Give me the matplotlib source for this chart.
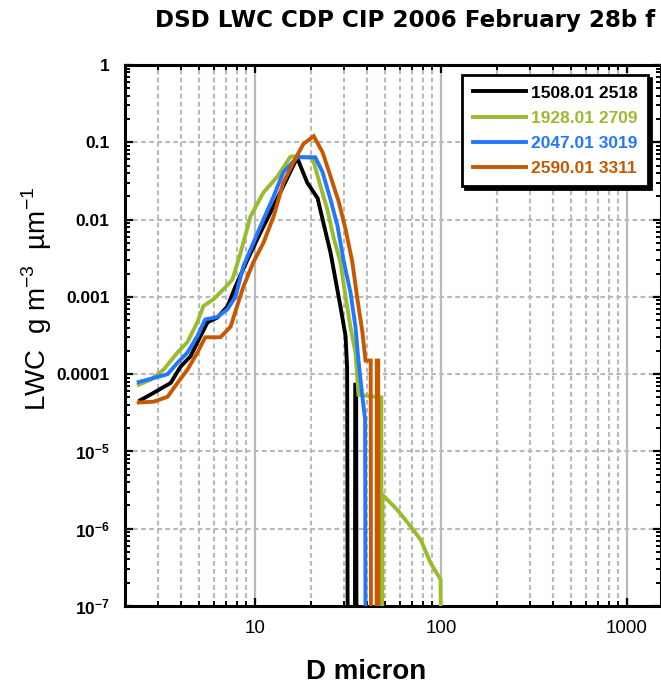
import matplotlib
matplotlib.use("Agg")
import matplotlib.pyplot as plt
from matplotlib.ticker import FixedLocator, FixedFormatter, LogLocator, NullFormatter

# ---------------- data ----------------
ZERO = 1e-9  # bins with no mass (below the plotted range)

d_1508 = [2.42, 2.84, 3.52, 3.98, 4.5, 5.09, 5.56, 6.28, 7.11, 7.85, 9.1, 10.7, 12.1,
          14.2, 16.5, 17.0, 19.1, 21.7, 23.1, 25.5, 27.1, 28.8, 30.7, 31.3, 31.6,
          34.4, 34.6, 35.0, 35.2]
lwc_1508 = [4.6e-5, 5.7e-5, 7.7e-5, 1.25e-4, 1.7e-4, 3.1e-4, 4.7e-4, 5.4e-4, 7.5e-4,
            1.36e-3, 3.0e-3, 6.8e-3, 1.23e-2, 2.7e-2, 5.7e-2, 6.0e-2, 3.0e-2, 1.9e-2,
            1.0e-2, 3.7e-3, 1.67e-3, 7.5e-4, 3.1e-4, 1.2e-4, ZERO, ZERO, 7.3e-5, 7.3e-5, ZERO]

d_1928 = [2.37, 2.75, 3.22, 3.83, 4.33, 4.9, 5.28, 5.98, 6.76, 7.56, 8.36, 9.46, 11.1,
          13.2, 15.5, 16.1, 20.4, 22.5, 24.5, 26.4, 28.8, 30.7, 32.6, 34.7, 36.0, 47.8,
          48.1, 48.5, 58.3, 68.7, 77.8, 88.0, 99.6, 100.0]
lwc_1928 = [7.3e-5, 8.5e-5, 1.14e-4, 1.9e-4, 2.6e-4, 4.7e-4, 7.6e-4, 9.3e-4, 1.25e-3,
            1.67e-3, 3.7e-3, 1.1e-2, 2.24e-2, 3.6e-2, 6.5e-2, 6.6e-2, 6.3e-2, 2.7e-2,
            1.35e-2, 6.0e-3, 2.8e-3, 1.0e-3, 4.1e-4, 1.9e-4, 5.4e-5, 5.0e-5, ZERO,
            2.75e-6, 1.75e-6, 1.07e-6, 7.2e-7, 3.6e-7, 2.2e-7, ZERO]

d_2047 = [2.37, 2.85, 3.39, 3.83, 4.33, 4.9, 5.4, 6.28, 7.11, 7.85, 8.67, 9.8, 11.1,
          12.6, 14.2, 16.9, 21.1, 23.1, 25.5, 27.8, 29.9, 32.6, 34.7, 36.0, 37.8, 39.1, 39.4]
lwc_2047 = [7.9e-5, 8.9e-5, 1.0e-4, 1.4e-4, 1.9e-4, 3.1e-4, 5.1e-4, 5.5e-4, 6.9e-4,
            1.0e-3, 2.5e-3, 5.0e-3, 1.0e-2, 2.0e-2, 4.1e-2, 6.4e-2, 6.4e-2, 4.1e-2,
            1.8e-2, 8.2e-3, 3.0e-3, 1.15e-3, 4.1e-4, 1.5e-4, 5.1e-5, 2.6e-5, ZERO]

d_2590 = [2.37, 2.85, 3.39, 3.83, 4.33, 4.9, 5.4, 6.52, 7.39, 8.0, 8.67, 9.8, 11.1,
          12.6, 14.2, 16.1, 18.2, 20.7, 23.1, 25.5, 28.2, 30.7, 33.4, 35.4, 37.8, 39.3,
          41.9, 42.1, 45.0, 45.2, 46.0, 46.2]
lwc_2590 = [4.3e-5, 4.4e-5, 5.1e-5, 7.7e-5, 1.14e-4, 1.9e-4, 3.0e-4, 3.0e-4, 4.1e-4,
            7.5e-4, 1.36e-3, 2.8e-3, 5.0e-3, 1.1e-2, 3.0e-2, 5.5e-2, 9.5e-2, 1.2e-1,
            7.4e-2, 3.6e-2, 1.7e-2, 7.5e-3, 2.8e-3, 1.0e-3, 3.5e-4, 1.5e-4, 1.5e-4,
            ZERO, ZERO, 1.5e-4, 1.5e-4, ZERO]

series_labels = ["1508.01 2518", "1928.01 2709", "2047.01 3019", "2590.01 3311"]
series_colors = ["#000000", "#99bb2e", "#2277ff", "#c85800"]

xtick_values = [10, 100, 1000]
xtick_labels = ["10", "100", "1000"]
ytick_values = [1e-7, 1e-6, 1e-5, 1e-4, 1e-3, 1e-2, 1e-1, 1]
ytick_labels = [r"$\mathbf{10^{-7}}$", r"$\mathbf{10^{-6}}$", r"$\mathbf{10^{-5}}$",
                "0.0001", "0.001", "0.01", "0.1", "1"]

title_text = "DSD LWC CDP CIP 2006 February 28b f"
xlabel_text = "D micron"
ylabel_text = r"LWC  g m$^{-3}$  µm$^{-1}$"

# ---------------- style ----------------
plt.rcParams["mathtext.fontset"] = "custom"
plt.rcParams["mathtext.rm"] = "Liberation Sans"
plt.rcParams["mathtext.bf"] = "Liberation Sans:bold"
plt.rcParams["lines.scale_dashes"] = False

W, H = 661, 686
fig = plt.figure(figsize=(W / 100, H / 100), dpi=100)
left, right, top, bottom = 125, 661, 65, 606
ax = fig.add_axes([left / W, 1 - bottom / H, (right - left) / W, (bottom - top) / H])

ax.set_xscale("log")
ax.set_yscale("log")
ax.set_xlim(2, 1525)
ax.set_ylim(1e-7, 1)

xs = [d_1508, d_1928, d_2047, d_2590]
ys = [lwc_1508, lwc_1928, lwc_2047, lwc_2590]
for x, y, c, lab in zip(xs, ys, series_colors, series_labels):
    ax.plot(x, y, color=c, lw=2.8, label=lab, solid_joinstyle="miter", zorder=3)

# grid
grid_c = "#b9b9b9"
ax.set_axisbelow(True)
ax.xaxis.grid(True, which="major", color=grid_c, lw=1.6, ls="-")
ax.xaxis.grid(True, which="minor", color=grid_c, lw=1.5, ls=(0, (3.4, 2.4)))
ax.yaxis.grid(True, which="major", color=grid_c, lw=1.5, ls=(0, (3.4, 2.4)))
ax.yaxis.grid(False, which="minor")

# ticks
ax.xaxis.set_major_locator(FixedLocator(xtick_values))
ax.xaxis.set_major_formatter(FixedFormatter(xtick_labels))
ax.xaxis.set_minor_locator(LogLocator(base=10, subs=range(2, 10), numticks=20))
ax.xaxis.set_minor_formatter(NullFormatter())
ax.yaxis.set_major_locator(FixedLocator(ytick_values))
ax.yaxis.set_major_formatter(FixedFormatter(ytick_labels))
ax.yaxis.set_minor_locator(LogLocator(base=10, subs=range(2, 10), numticks=20))
ax.yaxis.set_minor_formatter(NullFormatter())

ax.tick_params(which="both", direction="in", top=True, right=True, color="black")
ax.tick_params(which="major", length=6, width=1.6)
ax.tick_params(which="minor", length=3.5, width=1.4)
ax.tick_params(axis="x", which="major", pad=10)
ax.tick_params(axis="y", which="major", pad=11)
for lab in ax.get_xticklabels():
    lab.set_fontfamily("Liberation Sans")
    lab.set_fontsize(13.5)
for lab in ax.get_yticklabels():
    lab.set_fontfamily("Liberation Sans")
    lab.set_fontweight("bold")
    lab.set_fontsize(12.5)

for sp in ax.spines.values():
    sp.set_linewidth(2.2)
    sp.set_color("black")

# legend
leg = ax.legend(loc="upper right", bbox_to_anchor=(648 / W, 1 - 75 / H),
                bbox_transform=fig.transFigure, borderaxespad=0,
                frameon=True, fancybox=False, edgecolor="black", framealpha=1,
                shadow={"color": "black", "alpha": 1},
                prop={"family": "Liberation Sans", "weight": "bold", "size": 12.5},
                labelcolor="linecolor", handlelength=3.1, handletextpad=0.25,
                borderpad=0.6, labelspacing=0.57)
leg.get_frame().set_linewidth(2.0)
for h in leg.get_lines():
    h.set_linewidth(2.8)

# texts
fig.text(405 / W, 1 - 21 / H, title_text, ha="center", va="center",
         fontsize=16.6, fontweight="bold", family="DejaVu Sans")
fig.text(366 / W, 1 - 672 / H, xlabel_text, ha="center", va="center",
         fontsize=20, fontweight="bold", family="Liberation Sans")
fig.text(37 / W, 1 - 299 / H, ylabel_text, ha="center", va="center", rotation=90,
         fontsize=20, family="Liberation Sans")

fig.savefig("out.png", dpi=100)
